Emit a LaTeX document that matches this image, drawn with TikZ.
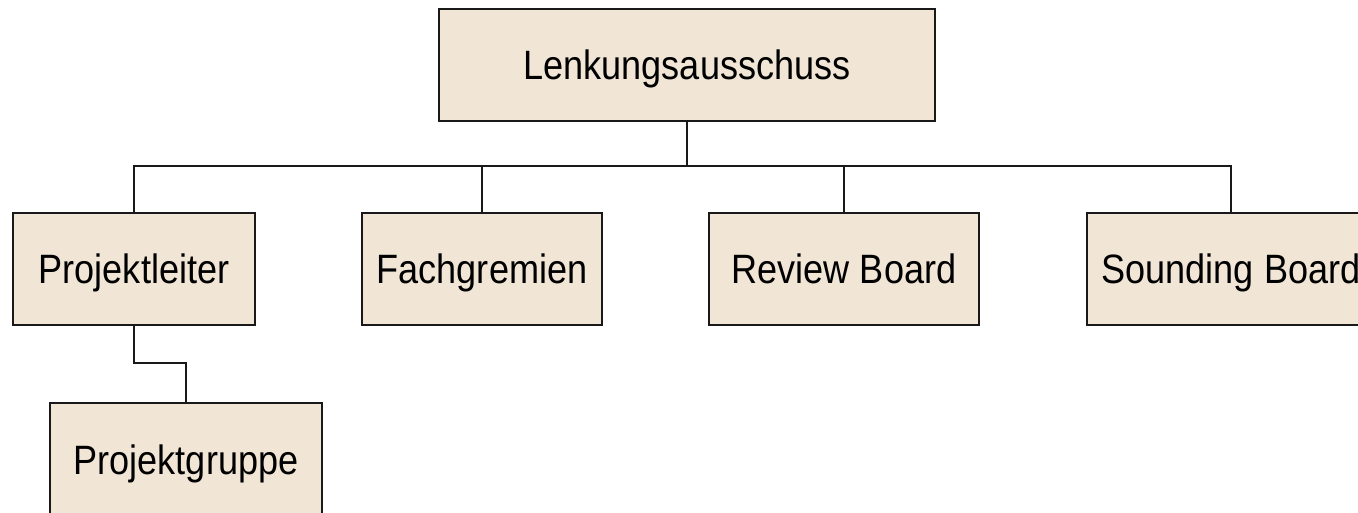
\documentclass[tikz,border=0pt]{standalone}
\usepackage{fontspec}
\setmainfont{Liberation Sans}
\newfontfamily\boxfont[FakeStretch=0.88]{Liberation Sans}
\definecolor{boxfill}{RGB}{241,229,214}
\definecolor{boxline}{RGB}{25,25,25}
\begin{document}
\begin{tikzpicture}[x=1pt,y=-1pt,
  box/.style={draw=boxline,fill=boxfill,line width=2pt,inner sep=0pt,outer sep=0pt,
    minimum height=112pt,font=\boxfont\fontsize{41}{45}\selectfont,text height=29.4pt,text depth=0pt},
  conn/.style={draw=boxline,line width=2pt}]
\useasboundingbox (0,0) rectangle (1358,512);
\clip (0,0) rectangle (1358,512);
\node[box,minimum width=496pt] (top) at (687,65) {Lenkungsausschuss};
\node[box,minimum width=242pt] (pl) at (134,269) {Projektleiter};
\node[box,minimum width=240pt] (fg) at (482,269) {Fachgremien};
\node[box,minimum width=270pt] (rb) at (844,269) {Review Board};
\node[box,minimum width=288pt] (sb) at (1231,269) {Sounding Board};
\node[box,minimum width=272pt,minimum height=114pt] (pg) at (186,460) {Projektgruppe};
\coordinate (bus) at (687,166);
\coordinate (elbow) at (134,363);
\draw[conn] (top.south) -- (top.south |- bus);
\draw[conn] (pl.north) -- (pl.north |- bus) -- (sb.north |- bus) -- (sb.north);
\draw[conn] (fg.north) -- (fg.north |- bus);
\draw[conn] (rb.north) -- (rb.north |- bus);
\draw[conn] (pl.south) -- (pl.south |- elbow) -- (pg.north |- elbow) -- (pg.north);
\end{tikzpicture}
\end{document}
